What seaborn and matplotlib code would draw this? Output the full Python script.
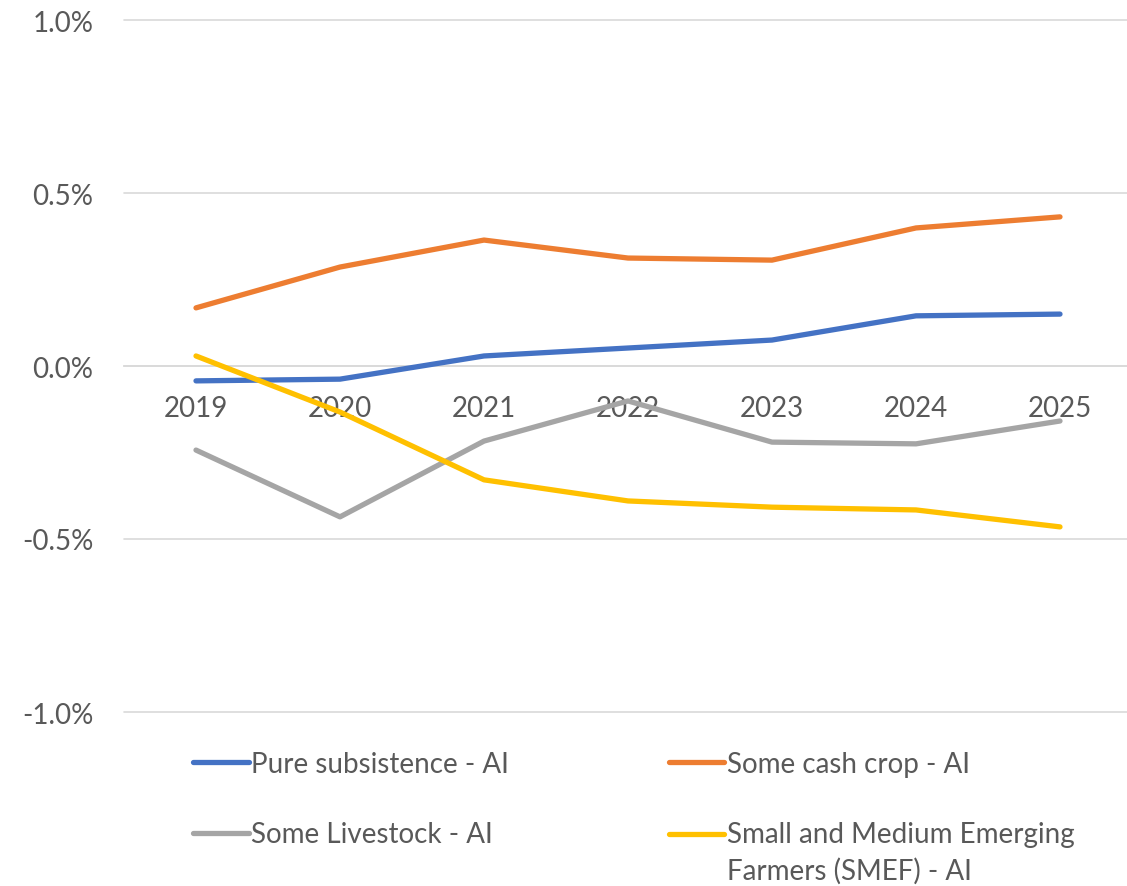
import numpy as np
import pandas as pd
import seaborn as sns
import matplotlib.pyplot as plt
from matplotlib.ticker import FuncFormatter
from matplotlib.legend_handler import HandlerLine2D

years = [2019, 2020, 2021, 2022, 2023, 2024, 2025]

# values in percent
pure_subsistence = [-0.043, -0.038, 0.029, 0.052, 0.075, 0.145, 0.150]
some_cash_crop = [0.168, 0.286, 0.364, 0.312, 0.306, 0.399, 0.431]
some_livestock = [-0.243, -0.436, -0.217, -0.101, -0.220, -0.225, -0.159]
smef = [0.029, -0.133, -0.329, -0.390, -0.408, -0.416, -0.465]

series_names = [
    "Pure subsistence - AI",
    "Some cash crop - AI",
    "Some Livestock - AI",
    "Small and Medium Emerging\nFarmers (SMEF) - AI",
]
colors = ["#4472C4", "#ED7D31", "#A5A5A5", "#FFC000"]

df = pd.concat([
    pd.DataFrame({"year": years, "value": vals, "series": name})
    for name, vals in zip(series_names, [pure_subsistence, some_cash_crop, some_livestock, smef])
])


class FirstLineHandler(HandlerLine2D):
    # put the legend line next to the first line of a wrapped label
    def create_artists(self, legend, orig_handle, xdescent, ydescent, width, height, fontsize, trans):
        arts = super().create_artists(legend, orig_handle, xdescent, ydescent, width, height, fontsize, trans)
        for a in arts:
            a.set_ydata(np.asarray(a.get_ydata()) + fontsize * 0.7)
        return arts


sns.set_theme(style="white")
plt.rcParams["font.family"] = ["Lato", "DejaVu Sans"]
plt.rcParams["axes.unicode_minus"] = False

fig = plt.figure(figsize=(11.27, 8.87), dpi=100)
ax = fig.add_axes([124 / 1127, 1 - 713 / 887, 1008 / 1127, 692 / 887])

sns.lineplot(data=df, x="year", y="value", hue="series", hue_order=series_names,
             palette=colors, linewidth=3.8, legend=False, ax=ax,
             solid_capstyle="round", solid_joinstyle="round")

ax.set_ylim(-1.0, 1.0)
ax.set_yticks([-1.0, -0.5, 0.0, 0.5, 1.0])
ax.yaxis.set_major_formatter(FuncFormatter(lambda v, p: f"{v:.1f}%"))
ax.set_xlim(2018.5, 2025.5)
ax.set_xticks(years)
ax.set_xlabel("")
ax.set_ylabel("")

ax.grid(axis="y", color="#D9D9D9", linewidth=1.2)
ax.grid(axis="x", visible=False)
for gl in ax.get_ygridlines():
    gl.set_clip_on(False)
ax.set_axisbelow(True)
for s in ["top", "right", "left"]:
    ax.spines[s].set_visible(False)
ax.spines["bottom"].set_position(("data", 0))
ax.spines["bottom"].set_color("#D9D9D9")
ax.spines["bottom"].set_linewidth(1.2)
ax.spines["bottom"].set_zorder(0.5)

ax.tick_params(axis="y", length=0, pad=22, labelsize=20, labelcolor="#595959")
ax.tick_params(axis="x", length=0, pad=21, labelsize=20, labelcolor="#595959")

lines = ax.get_lines()[:4]
handles = [lines[0], lines[2], lines[1], lines[3]]
labels = [series_names[0], series_names[2], series_names[1], series_names[3]]
leg = fig.legend(handles, labels, ncol=2, loc="upper left",
                 bbox_to_anchor=(193 / 1127, 1 - 752 / 887), frameon=False,
                 fontsize=20, labelcolor="#595959", handlelength=2.0,
                 handletextpad=0.1, columnspacing=5.75, labelspacing=1.6,
                 borderpad=0, borderaxespad=0,
                 handler_map={lines[3]: FirstLineHandler()})
for t in leg.get_texts():
    t.set_linespacing(1.45)

fig.savefig("out.png", dpi=100)
